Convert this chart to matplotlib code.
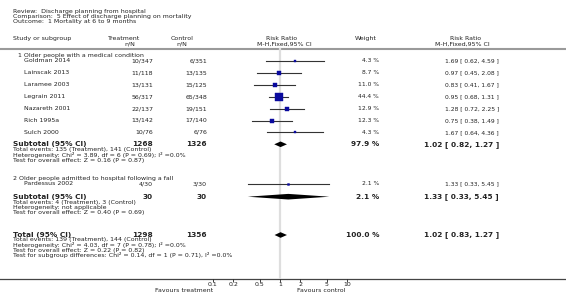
import numpy as np
import matplotlib
matplotlib.use("Agg")
import matplotlib.pyplot as plt

# ---- data ----
group1_name = "1 Older people with a medical condition"
group1_studies = ["Goldman 2014", "Lainscak 2013", "Laramee 2003", "Legrain 2011",
                  "Nazareth 2001", "Rich 1995a", "Sulch 2000"]
group1_treat = ["10/347", "11/118", "13/131", "56/317", "22/137", "13/142", "10/76"]
group1_ctrl = ["6/351", "13/135", "15/125", "65/348", "19/151", "17/140", "6/76"]
group1_rr = [1.69, 0.97, 0.83, 0.95, 1.28, 0.75, 1.67]
group1_lo = [0.62, 0.45, 0.41, 0.68, 0.72, 0.38, 0.64]
group1_hi = [4.59, 2.08, 1.67, 1.31, 2.25, 1.49, 4.36]
group1_weight = [4.3, 8.7, 11.0, 44.4, 12.9, 12.3, 4.3]

group2_name = "2 Older people admitted to hospital following a fall"
group2_studies = ["Pardessus 2002"]
group2_treat = ["4/30"]
group2_ctrl = ["3/30"]
group2_rr = [1.33]
group2_lo = [0.33]
group2_hi = [5.45]
group2_weight = [2.1]

# pooled rows: two subtotals and the overall total
pooled_labels = ["Subtotal (95% CI)", "Subtotal (95% CI)", "Total (95% CI)"]
pooled_treat = [1268, 30, 1298]
pooled_ctrl = [1326, 30, 1356]
pooled_weight = [97.9, 2.1, 100.0]
pooled_rr = [1.02, 1.33, 1.02]
pooled_lo = [0.82, 0.33, 0.83]
pooled_hi = [1.27, 5.45, 1.27]

notes1 = ["Total events: 135 (Treatment), 141 (Control)",
          "Heterogeneity: Chi\u00b2 = 3.89, df = 6 (P = 0.69); I\u00b2 =0.0%",
          "Test for overall effect: Z = 0.16 (P = 0.87)"]
notes2 = ["Total events: 4 (Treatment), 3 (Control)",
          "Heterogeneity: not applicable",
          "Test for overall effect: Z = 0.40 (P = 0.69)"]
notes_total = ["Total events: 139 (Treatment), 144 (Control)",
               "Heterogeneity: Chi\u00b2 = 4.03, df = 7 (P = 0.78); I\u00b2 =0.0%",
               "Test for overall effect: Z = 0.22 (P = 0.82)",
               "Test for subgroup differences: Chi\u00b2 = 0.14, df = 1 (P = 0.71), I\u00b2 =0.0%"]

title_lines = ["Review:  Discharge planning from hospital",
               "Comparison:  5 Effect of discharge planning on mortality",
               "Outcome:  1 Mortality at 6 to 9 months"]
ticks = [0.1, 0.2, 0.5, 1, 2, 5, 10]
tick_labels = ["0.1", "0.2", "0.5", "1", "2", "5", "10"]

# ---- layout (pixels) ----
W, H = 566, 296
FS = 4.5
FSB = 5.3
TXT = "#222222"
X_NAME, X_STUDY = 13, 24
X_TREAT, X_CTRL = 153, 207
X_WEIGHT, X_RR = 379, 499
AXIS_Y = 279
PX_DEC = 67.0
X_ONE = 280

fig = plt.figure(figsize=(W / 100, H / 100), dpi=100)
ax = fig.add_axes([0, 0, 1, 1])
ax.set_xlim(0, W)
ax.set_ylim(H, 0)
ax.axis("off")

left = X_ONE - 2 * PX_DEC
fa = fig.add_axes([left / W, (H - AXIS_Y) / H, 4 * PX_DEC / W, AXIS_Y / H])
fa.set_xscale("log")
fa.set_xlim(0.01, 100)
fa.set_ylim(AXIS_Y, 0)
fa.patch.set_alpha(0)
for s in fa.spines.values():
    s.set_visible(False)
fa.set_yticks([])
fa.set_xticks(ticks)
fa.set_xticklabels(tick_labels)
fa.minorticks_off()
fa.tick_params(axis="x", length=2, width=0.6, pad=0.5, labelsize=FS, colors=TXT)


def t(x, y, s, ha="left", bold=False, size=None):
    ax.text(x, y, s, ha=ha, va="center", color=TXT,
            fontsize=size or (FSB if bold else FS),
            fontweight="bold" if bold else "normal")


# header
for i, line in enumerate(title_lines):
    t(X_NAME, 11 + 5.2 * i, line)
t(X_NAME, 38.5, "Study or subgroup")
t(124, 38.5, "Treatment", ha="center")
t(130, 43.8, "n/N", ha="center")
t(182, 38.5, "Control", ha="center")
t(182, 43.8, "n/N", ha="center")
t(282, 38.5, "Risk Ratio", ha="center")
t(284, 43.8, "M-H,Fixed,95% CI", ha="center")
t(X_WEIGHT - 2, 38.5, "Weight", ha="right")
t(466, 38.5, "Risk Ratio", ha="center")
t(462, 43.8, "M-H,Fixed,95% CI", ha="center")
ax.plot([0, W], [48.5, 48.5], color="#9a9a9a", lw=1.5)

# reference line at 1
fa.plot([1, 1], [48.5, AXIS_Y], color="#dedede", lw=1.6, zorder=0)


def study_rows(names, tr, ct, rr, lo, hi, wt, y0, step):
    for i in range(len(names)):
        y = y0 + step * i
        t(X_STUDY, y, names[i])
        t(X_TREAT, y, tr[i], ha="right")
        t(X_CTRL, y, ct[i], ha="right")
        t(X_WEIGHT, y, f"{wt[i]:.1f} %", ha="right", size=4.3)
        t(X_RR, y, f"{rr[i]:.2f} [ {lo[i]:.2f}, {hi[i]:.2f} ]", ha="right", size=4.3)
        fa.plot([lo[i], hi[i]], [y, y], color="#333333", lw=0.8, zorder=2)
        fa.plot(rr[i], y, marker="s", ms=0.95 * np.sqrt(wt[i]), color="#0a0a9e",
                mec="#0a0a9e", mew=0.3, zorder=3)


def pooled_row(i, y, notes, note_y0, note_step):
    t(X_NAME, y, pooled_labels[i], bold=True)
    t(X_TREAT, y, str(pooled_treat[i]), ha="right", bold=True)
    t(X_CTRL, y, str(pooled_ctrl[i]), ha="right", bold=True)
    t(X_WEIGHT, y, f"{pooled_weight[i]:.1f} %", ha="right", bold=True)
    t(X_RR, y, f"{pooled_rr[i]:.2f} [ {pooled_lo[i]:.2f}, {pooled_hi[i]:.2f} ]",
      ha="right", bold=True)
    h = 2.8
    fa.fill([pooled_lo[i], pooled_rr[i], pooled_hi[i], pooled_rr[i]],
            [y, y - h, y, y + h], color="black", lw=0, zorder=3)
    for k, note in enumerate(notes):
        t(X_NAME, note_y0 + note_step * k, note)


t(X_NAME + 5, 55.7, group1_name)
study_rows(group1_studies, group1_treat, group1_ctrl, group1_rr, group1_lo,
           group1_hi, group1_weight, 61, 11.9)
pooled_row(0, 144.3, notes1, 150, 5.2)

t(X_NAME, 178.3, group2_name)
study_rows(group2_studies, group2_treat, group2_ctrl, group2_rr, group2_lo,
           group2_hi, group2_weight, 183.6, 11.9)
pooled_row(1, 196.7, notes2, 202.3, 5.3)

pooled_row(2, 235, notes_total, 240, 5.1)

# bottom axis line and labels
ax.plot([0, W], [AXIS_Y, AXIS_Y], color="#444444", lw=0.9)
t(213, 290, "Favours treatment", ha="right")
t(297, 290, "Favours control")

fig.savefig("out.png", dpi=100)
